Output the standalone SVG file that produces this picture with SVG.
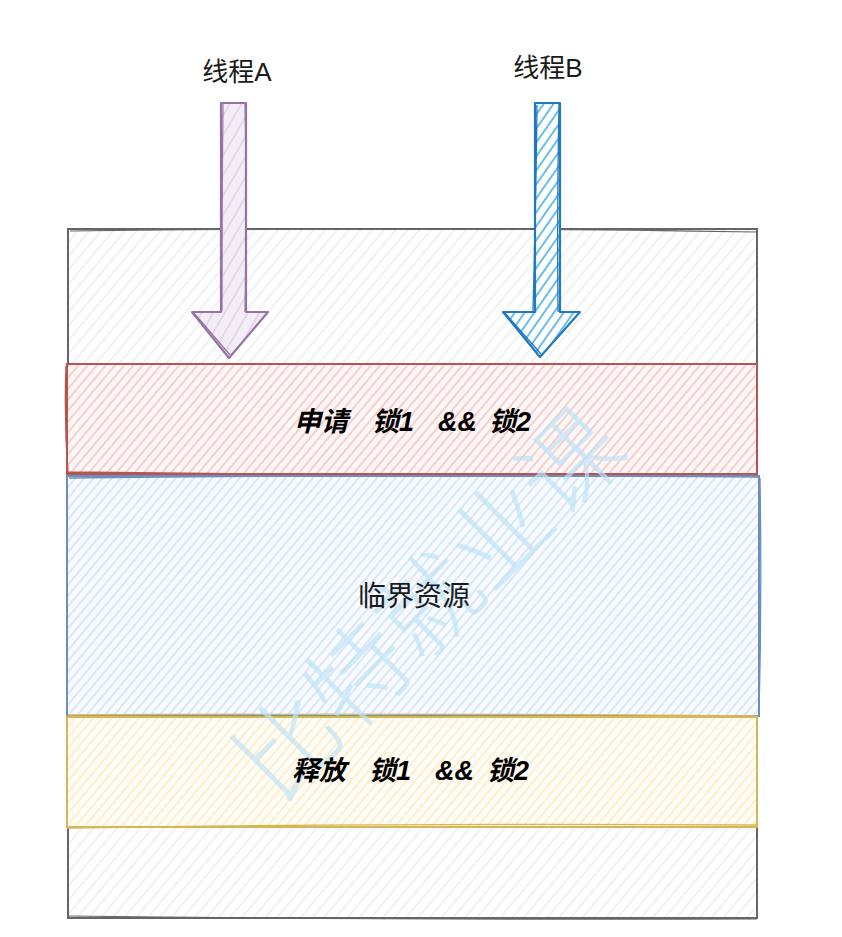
<svg xmlns="http://www.w3.org/2000/svg" width="842" height="937" viewBox="0 0 842 937">
  <style>
    .lbl{font-family:"Liberation Sans","Noto Sans CJK SC",sans-serif;fill:#1a1a1a}
    .bi{font-weight:bold;font-style:italic;font-size:27px;fill:#000}
    .wm{font-family:"Noto Sans CJK SC",serif;font-size:100px;font-weight:300;fill:#bfe4f6;opacity:0.7}
  </style>
  <defs>
    <pattern id="hGray" width="9" height="9" patternUnits="userSpaceOnUse" patternTransform="rotate(40)">
      <rect width="9" height="9" fill="#ffffff"/>
      <line x1="1" y1="0" x2="1" y2="9" stroke="#e9e9e9" stroke-width="1.2"/>
    </pattern>
    <pattern id="hRed" width="7" height="7" patternUnits="userSpaceOnUse" patternTransform="rotate(40)">
      <rect width="7" height="7" fill="#fdf7f7"/>
      <line x1="1" y1="0" x2="1" y2="7" stroke="#f4b9b7" stroke-width="1.3"/>
    </pattern>
    <pattern id="hBlue" width="7" height="7" patternUnits="userSpaceOnUse" patternTransform="rotate(40)">
      <rect width="7" height="7" fill="#f8fbff"/>
      <line x1="1" y1="0" x2="1" y2="7" stroke="#cadcf6" stroke-width="1.3"/>
    </pattern>
    <pattern id="hYellow" width="7" height="7" patternUnits="userSpaceOnUse" patternTransform="rotate(40)">
      <rect width="7" height="7" fill="#fffdf7"/>
      <line x1="1" y1="0" x2="1" y2="7" stroke="#fde6b5" stroke-width="1.3"/>
    </pattern>
    <pattern id="hPurple" width="10" height="10" patternUnits="userSpaceOnUse" patternTransform="rotate(30)">
      <rect width="10" height="10" fill="#f3eef6"/>
      <line x1="1" y1="0" x2="1" y2="10" stroke="#dccde4" stroke-width="1.4"/>
    </pattern>
    <pattern id="hBlueArrow" width="8" height="8" patternUnits="userSpaceOnUse" patternTransform="rotate(35)">
      <rect width="8" height="8" fill="#ffffff"/>
      <line x1="1" y1="0" x2="1" y2="8" stroke="#3aa8e0" stroke-width="1.5"/>
    </pattern>
  </defs>

  <!-- outer container -->
  <g id="container">
    <path d="M68,229 L757,229 L757,918 L68,918 Z" fill="url(#hGray)" stroke="#666" stroke-width="2"/>
    <path d="M70,231 Q400,226 756,232 M69,916 Q400,920 757,919" fill="none" stroke="#666" stroke-width="1.2"/>
  </g>

  <!-- bands -->
  <g id="acquire">
    <rect x="67" y="364" width="690" height="110" fill="url(#hRed)" stroke="#b85450" stroke-width="2"/>
    <path d="M68,472 Q400,476 757,476 M66,366 Q64,420 68,473" fill="none" stroke="#b85450" stroke-width="1.3"/>
    <text class="lbl bi" x="294" y="431">申请</text>
    <text class="lbl bi" x="372" y="431">锁1</text>
    <text class="lbl bi" x="438" y="431" font-size="21">&amp;&amp;</text>
    <text class="lbl bi" x="489" y="431">锁2</text>
  </g>

  <g id="critical">
    <rect x="67" y="476" width="692" height="240" fill="url(#hBlue)" stroke="#6c8ebf" stroke-width="2"/>
    <path d="M69,478 Q400,474 758,477 M760,478 Q762,600 759,716" fill="none" stroke="#6c8ebf" stroke-width="1.3"/>
  </g>

  <g id="release">
    <rect x="67" y="717" width="690" height="110" fill="url(#hYellow)" stroke="#d6b656" stroke-width="2"/>
    <path d="M68,715 Q400,713 757,716 M67,828 Q400,823 757,825" fill="none" stroke="#d6b656" stroke-width="1.3"/>
  </g>

  <!-- watermark -->
  <text class="wm" x="430" y="640" text-anchor="middle" transform="rotate(-45 430 605)">比特就业课</text>

  <text class="lbl" x="414" y="606" font-size="28" text-anchor="middle">临界资源</text>
  <g id="release-label">
    <text class="lbl bi" x="292" y="780">释放</text>
    <text class="lbl bi" x="369" y="780">锁1</text>
    <text class="lbl bi" x="435" y="780" font-size="21">&amp;&amp;</text>
    <text class="lbl bi" x="487" y="780">锁2</text>
  </g>

  <!-- thread arrows -->
  <g id="threadA">
    <text class="lbl" x="237" y="81" font-size="26" text-anchor="middle">线程A</text>
    <path d="M221,103 L246,103 L246,312 L268,312 L229,358 L192,312 L221,312 Z" fill="url(#hPurple)" stroke="#9673a6" stroke-width="2.2" stroke-linejoin="round"/>
    <path d="M223,104 Q222,200 222,311 M245,104 Q247,200 245,312 M194,313 L230,355" fill="none" stroke="#9673a6" stroke-width="1.2"/>
  </g>

  <g id="threadB">
    <text class="lbl" x="548" y="77" font-size="26" text-anchor="middle">线程B</text>
    <path d="M535,103 L560,103 L560,312 L580,312 L540,357 L503,312 L535,312 Z" fill="url(#hBlueArrow)" stroke="#1f7ac0" stroke-width="2.2" stroke-linejoin="round"/>
    <path d="M537,105 Q536,200 533,311 M559,104 Q557,200 558,312 M505,313 L541,354" fill="none" stroke="#1f7ac0" stroke-width="1.3"/>
  </g>
</svg>
